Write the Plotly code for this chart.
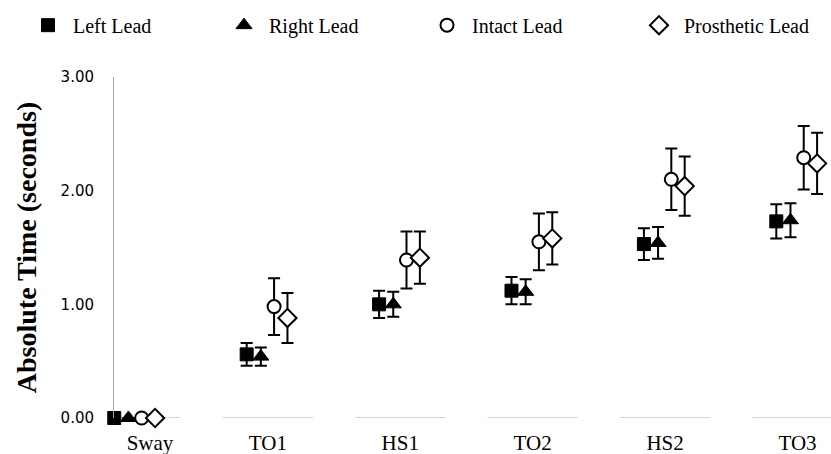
import plotly.graph_objects as go

categories = ["Sway", "TO1", "HS1", "TO2", "HS2", "TO3"]

left_mean = [0.00, 0.56, 1.00, 1.12, 1.53, 1.73]
left_sd = [None, 0.10, 0.12, 0.12, 0.14, 0.15]
right_mean = [0.00, 0.54, 1.00, 1.11, 1.54, 1.74]
right_sd = [None, 0.08, 0.11, 0.11, 0.14, 0.15]
intact_mean = [0.00, 0.98, 1.39, 1.55, 2.10, 2.29]
intact_sd = [None, 0.25, 0.25, 0.25, 0.27, 0.28]
prosth_mean = [0.00, 0.88, 1.41, 1.58, 2.04, 2.24]
prosth_sd = [None, 0.22, 0.23, 0.23, 0.26, 0.27]

y_ticks = [0, 1, 2, 3]

PLOT_L, PLOT_W = 114, 717
legend_px = [23, 219, 422, 634]

series = [
    ("Left Lead", left_mean, left_sd, -0.16, dict(symbol="square", color="black", size=13, line=dict(color="black", width=1))),
    ("Right Lead", right_mean, right_sd, -0.053, dict(symbol="triangle-up", color="black", size=14, line=dict(color="black", width=1))),
    ("Intact Lead", intact_mean, intact_sd, 0.047, dict(symbol="circle", color="white", size=13, line=dict(color="black", width=2))),
    ("Prosthetic Lead", prosth_mean, prosth_sd, 0.148, dict(symbol="diamond", color="white", size=14, line=dict(color="black", width=2))),
]

legend_font = dict(family="Liberation Serif, Times New Roman, serif", size=20, color="black")

fig = go.Figure()
idx = list(range(len(categories)))
legend_layout = {}
for k, (name, mean, sd, off, mk) in enumerate(series):
    lname = "legend" if k == 0 else f"legend{k + 1}"
    fig.add_trace(go.Scatter(
        x=[i + off for i in idx], y=mean, name=name, mode="markers",
        marker=mk, cliponaxis=False, legend=lname,
        error_y=dict(type="data", array=sd, visible=True, color="black", thickness=2, width=6),
    ))
    legend_layout[lname] = dict(
        orientation="h", x=(legend_px[k] - PLOT_L) / PLOT_W, y=1.152,
        xanchor="left", yanchor="middle", font=legend_font, itemwidth=40,
        bgcolor="rgba(0,0,0,0)")

# segmented category baseline
xmin, xmax = -0.162, 5.253
for i in idx:
    fig.add_shape(type="line", xref="x", yref="y",
                  x0=max(i - 0.34, xmin), x1=min(i + 0.34, xmax), y0=0, y1=0,
                  line=dict(color="#a6a6a6", width=1), layer="below")

tickpos = [i for i in idx]
tickpos[0] = 0.11

fig.update_layout(
    width=831, height=454,
    margin=dict(l=PLOT_L, r=0, t=77, b=36, autoexpand=False),
    plot_bgcolor="white", paper_bgcolor="white",
    showlegend=True,
    xaxis=dict(range=[xmin, xmax], tickmode="array", tickvals=tickpos, ticktext=categories,
               showline=False, showgrid=False, zeroline=False, ticks="",
               ticklabelstandoff=10, automargin=False,
               tickfont=dict(family="Liberation Serif, Times New Roman, serif", size=21, color="black")),
    yaxis=dict(range=[0, 3], tickmode="array", tickvals=y_ticks, tickformat=".2f",
               showline=True, linecolor="#a6a6a6", linewidth=1, showgrid=False, zeroline=False,
               ticks="", ticklabelstandoff=16, automargin=False,
               tickfont=dict(family="DejaVu Sans, sans-serif", size=15, color="black"),
               title=dict(text="<b>Absolute Time (seconds)</b>", standoff=15,
                          font=dict(family="Liberation Serif, Times New Roman, serif", size=28, color="black"))),
    **legend_layout,
)

fig.write_html("out.html", config={"displayModeBar": False},
               post_script="document.body.style.margin='0';document.body.style.padding='0';document.body.style.overflow='hidden';")
